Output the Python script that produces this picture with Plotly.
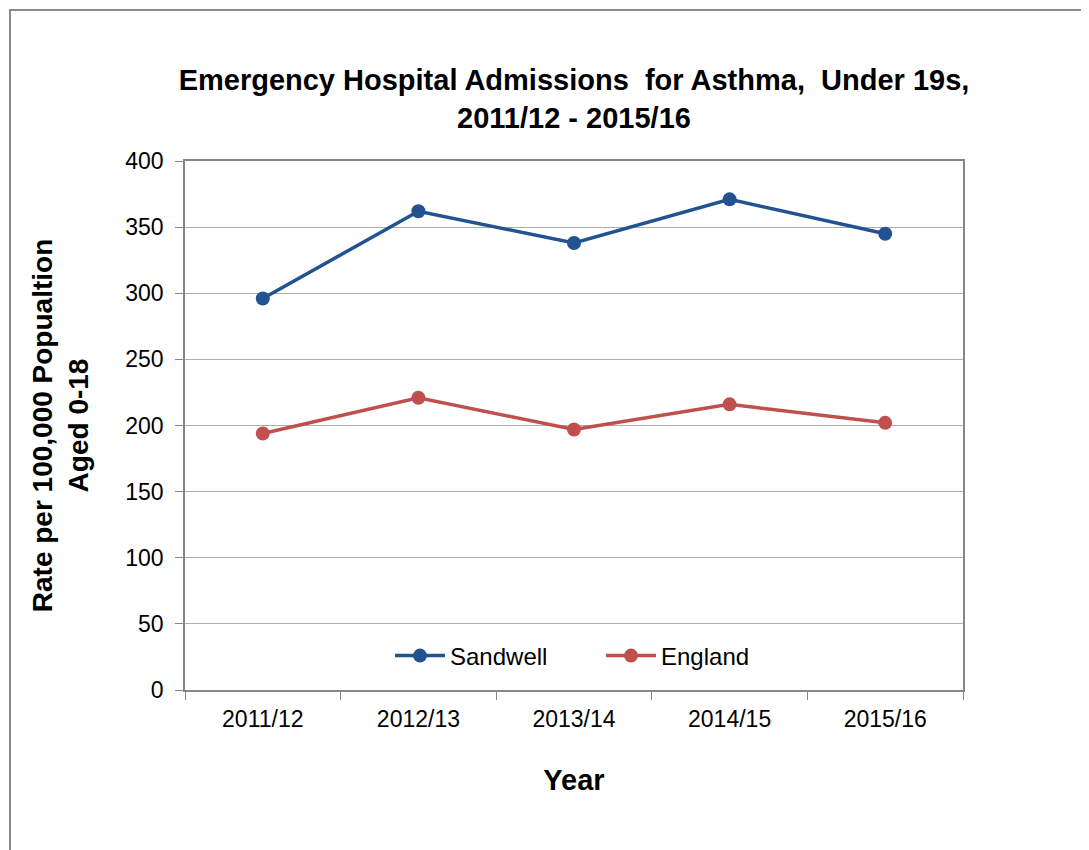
import plotly.graph_objects as go

years = ["2011/12", "2012/13", "2013/14", "2014/15", "2015/16"]
sandwell = [296, 362, 338, 371, 345]
england = [194, 221, 197, 216, 202]
y_ticks = [0, 50, 100, 150, 200, 250, 300, 350, 400]

blue = "#22528F"
red = "#C0504D"
font = "Liberation Sans, Arial, sans-serif"

fig = go.Figure()
fig.add_trace(go.Scatter(x=years, y=sandwell, name="Sandwell", mode="lines+markers",
                         line=dict(color=blue, width=3.5),
                         marker=dict(color=blue, size=14)))
fig.add_trace(go.Scatter(x=years, y=england, name="England", mode="lines+markers",
                         line=dict(color=red, width=3.5),
                         marker=dict(color=red, size=14)))

OFF = 8  # default page body margin
W, H = 1089 - OFF, 850 - OFF
L, R, T, B = 185 - OFF, 963 - OFF, 161 - OFF, 690 - OFF
pw, ph = R - L, B - T

def px_x(p):
    return (p - OFF - L) / pw

def px_y(p):
    return (B - (p - OFF)) / ph

fig.update_layout(
    width=W, height=H,
    margin=dict(l=L, r=W - R, t=T, b=H - B, autoexpand=False),
    paper_bgcolor="white", plot_bgcolor="white",
    font=dict(family=font, color="black", size=23),
    title=dict(text="<b>Emergency Hospital Admissions  for Asthma,  Under 19s,<br>2011/12 - 2015/16</b>",
               x=0.5, xref="paper", xanchor="center",
               y=1 - (90 - OFF) / H, yanchor="middle",
               font=dict(size=29, family=font)),
    showlegend=True,
    legend=dict(orientation="h", x=px_x(390), y=px_y(656), xanchor="left", yanchor="middle",
                bgcolor="rgba(0,0,0,0)", font=dict(size=24), itemwidth=50,
                entrywidth=146, entrywidthmode="pixels",
                traceorder="normal"),
    xaxis=dict(type="category", tickson="boundaries", ticks="outside", ticklen=8,
               tickcolor="#868686", showline=True, linecolor="#868686", linewidth=1.5,
               mirror=True, showgrid=False, tickfont=dict(size=23), ticklabelstandoff=8,
               range=[-0.5, 4.5],
               title=dict(text="<b>Year</b>", font=dict(size=29), standoff=38)),
    yaxis=dict(range=[0, 400], tickvals=y_ticks, ticks="outside", ticklen=8,
               tickcolor="#868686", showline=True, linecolor="#868686", linewidth=1.5,
               mirror=True, showgrid=True, gridcolor="#ADADAD", gridwidth=1.2,
               tickfont=dict(size=23), zeroline=False, ticklabelstandoff=7,
               title=dict(text="<b>Rate per 100,000 Popualtion<br>Aged 0-18</b>",
                          font=dict(size=28), standoff=28)),
    shapes=[dict(type="rect", xref="paper", yref="paper",
                 x0=px_x(10), x1=px_x(1110), y0=px_y(880), y1=px_y(10),
                 line=dict(color="#8A8A8A", width=2), layer="below")],
)

fig.write_html("out.html")
